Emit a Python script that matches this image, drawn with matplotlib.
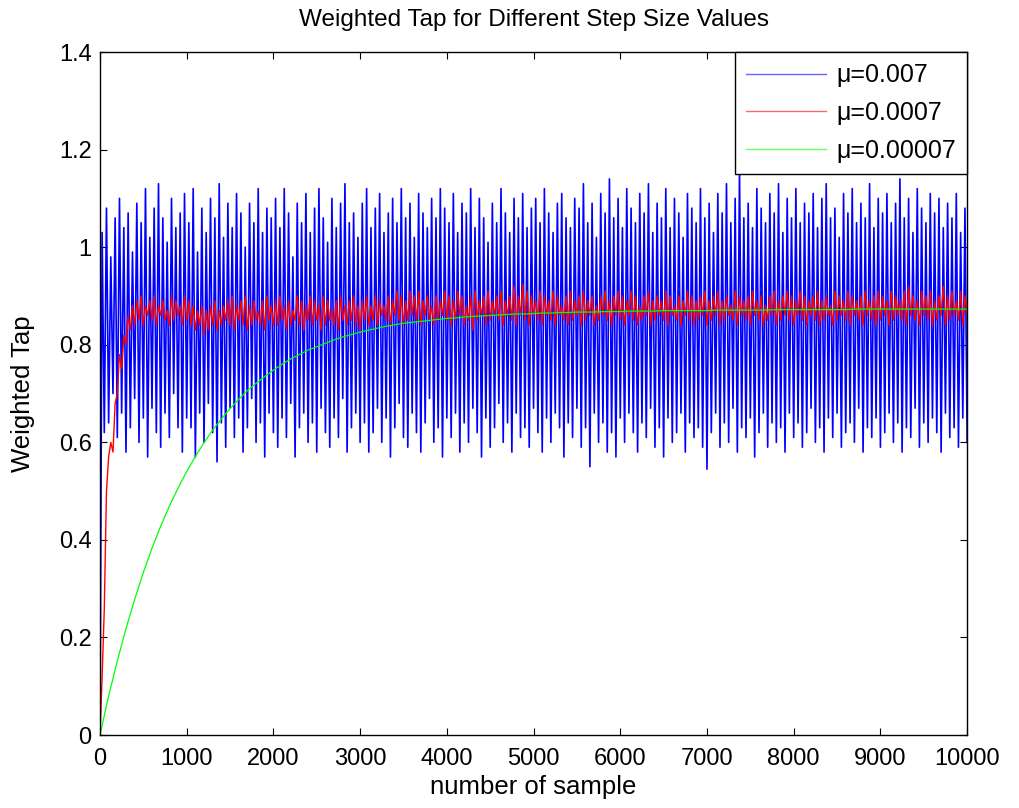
import matplotlib
matplotlib.use("Agg")
import matplotlib.pyplot as plt
import numpy as np

plt.rcParams['font.family'] = ['Liberation Sans', 'DejaVu Sans']

n_samples = 10000
step = 25

# mu = 0.007 : alternating peaks and troughs
blue_start = 0.0
blue_hi = [1.03, 1.08, 0.98, 1.06, 1.10, 1.04, 1.07, 0.99, 1.09, 1.05, 1.12, 1.02, 1.08, 1.13, 1.06, 1.01, 1.10, 1.04, 1.07, 1.11,
           1.05, 1.12, 0.99, 1.08, 1.03, 1.10, 1.06, 1.13, 1.02, 1.09, 1.04, 1.11, 1.07, 1.00, 1.09, 1.05, 1.12, 1.03, 1.08, 1.06,
           1.10, 1.04, 1.12, 1.07, 0.98, 1.09, 1.05, 1.11, 1.03, 1.08, 1.12, 1.06, 1.01, 1.10, 1.04, 1.09, 1.13, 1.05, 1.07, 1.02,
           1.09, 1.12, 1.04, 1.08, 1.11, 1.03, 1.07, 1.10, 1.05, 1.12, 1.06, 1.09, 1.02, 1.11, 1.07, 1.04, 1.10, 1.06, 1.12, 1.08,
           1.05, 1.11, 1.03, 1.09, 1.07, 1.12, 1.04, 1.10, 1.06, 1.01, 1.09, 1.05, 1.12, 1.07, 1.03, 1.10, 1.06, 1.11, 1.04, 1.08,
           1.10, 1.05, 1.12, 1.07, 1.03, 1.09, 1.11, 1.06, 1.04, 1.10, 1.08, 1.13, 1.05, 1.09, 1.02, 1.11, 1.07, 1.14, 1.06, 1.10,
           1.04, 1.12, 1.08, 1.05, 1.11, 1.07, 1.13, 1.03, 1.09, 1.06, 1.12, 1.04, 1.10, 1.07, 1.02, 1.11, 1.08, 1.05, 1.12, 1.06,
           1.09, 1.03, 1.11, 1.07, 1.13, 1.05, 1.10, 1.16, 1.06, 1.09, 1.04, 1.12, 1.08, 1.05, 1.11, 1.07, 1.13, 1.03, 1.10, 1.06,
           1.12, 1.05, 1.09, 1.07, 1.11, 1.04, 1.10, 1.13, 1.06, 1.08, 1.02, 1.11, 1.07, 1.12, 1.05, 1.09, 1.06, 1.13, 1.04, 1.10,
           1.07, 1.11, 1.05, 1.09, 1.14, 1.06, 1.10, 1.03, 1.12, 1.08, 1.05, 1.11, 1.07, 1.10, 1.04, 1.09, 1.06, 1.11, 1.03, 1.08]
blue_lo = [0.62, 0.64, 0.70, 0.61, 0.66, 0.58, 0.63, 0.69, 0.60, 0.65, 0.57, 0.67, 0.62, 0.59, 0.66, 0.61, 0.70, 0.63, 0.58, 0.65,
           0.63, 0.57, 0.66, 0.60, 0.68, 0.62, 0.56, 0.64, 0.59, 0.67, 0.61, 0.65, 0.58, 0.63, 0.69, 0.60, 0.64, 0.57, 0.66, 0.62,
           0.59, 0.65, 0.61, 0.68, 0.57, 0.63, 0.66, 0.60, 0.64, 0.58, 0.67, 0.62, 0.59, 0.65, 0.61, 0.69, 0.58, 0.63, 0.66, 0.60,
           0.64, 0.58, 0.62, 0.67, 0.60, 0.65, 0.57, 0.63, 0.68, 0.61, 0.59, 0.66, 0.62, 0.58, 0.64, 0.69, 0.60, 0.63, 0.57, 0.65,
           0.61, 0.66, 0.58, 0.64, 0.60, 0.67, 0.62, 0.57, 0.65, 0.59, 0.63, 0.68, 0.60, 0.64, 0.58, 0.66, 0.61, 0.63, 0.59, 0.67,
           0.62, 0.58, 0.65, 0.60, 0.66, 0.63, 0.57, 0.64, 0.61, 0.67, 0.59, 0.63, 0.55, 0.66, 0.60, 0.64, 0.58, 0.62, 0.57, 0.65,
           0.60, 0.66, 0.62, 0.58, 0.64, 0.61, 0.67, 0.59, 0.63, 0.57, 0.65, 0.60, 0.62, 0.66, 0.58, 0.64, 0.61, 0.63, 0.59, 0.545,
           0.62, 0.66, 0.59, 0.64, 0.60, 0.67, 0.58, 0.63, 0.61, 0.65, 0.57, 0.62, 0.66, 0.59, 0.64, 0.60, 0.63, 0.58, 0.66, 0.61,
           0.64, 0.59, 0.62, 0.67, 0.60, 0.63, 0.58, 0.65, 0.61, 0.66, 0.59, 0.62, 0.64, 0.60, 0.67, 0.58, 0.63, 0.61, 0.65, 0.59,
           0.62, 0.66, 0.60, 0.64, 0.58, 0.63, 0.61, 0.67, 0.59, 0.64, 0.60, 0.65, 0.62, 0.58, 0.66, 0.61, 0.63, 0.59, 0.65, 0.60]

# mu = 0.0007
red_start = 0.0
red_hi = [0.12, 0.50, 0.60, 0.68, 0.78, 0.82, 0.86, 0.88, 0.89, 0.90, 0.88, 0.89, 0.90, 0.88, 0.89, 0.87, 0.90, 0.89, 0.88, 0.90,
          0.89, 0.88, 0.87, 0.88, 0.87, 0.88, 0.89, 0.87, 0.88, 0.89, 0.90, 0.88, 0.89, 0.90, 0.88, 0.89, 0.87, 0.89, 0.90, 0.88,
          0.89, 0.90, 0.88, 0.89, 0.87, 0.90, 0.89, 0.88, 0.90, 0.89, 0.88, 0.90, 0.89, 0.87, 0.89, 0.90, 0.88, 0.89, 0.90, 0.88,
          0.89, 0.90, 0.88, 0.90, 0.89, 0.88, 0.90, 0.89, 0.91, 0.90, 0.89, 0.91, 0.90, 0.91, 0.89, 0.90, 0.88, 0.90, 0.89, 0.91,
          0.90, 0.89, 0.91, 0.90, 0.88, 0.90, 0.91, 0.89, 0.90, 0.91, 0.89, 0.90, 0.91, 0.89, 0.90, 0.92, 0.90, 0.925, 0.91, 0.90,
          0.89, 0.91, 0.90, 0.89, 0.91, 0.90, 0.88, 0.90, 0.91, 0.89, 0.90, 0.91, 0.89, 0.90, 0.88, 0.90, 0.91, 0.89, 0.90, 0.91,
          0.90, 0.89, 0.91, 0.90, 0.88, 0.90, 0.91, 0.89, 0.90, 0.89, 0.91, 0.90, 0.88, 0.90, 0.89, 0.91, 0.90, 0.89, 0.90, 0.91,
          0.89, 0.90, 0.91, 0.89, 0.90, 0.88, 0.91, 0.90, 0.89, 0.90, 0.91, 0.89, 0.90, 0.88, 0.90, 0.91, 0.89, 0.90, 0.91, 0.90,
          0.89, 0.91, 0.90, 0.89, 0.90, 0.91, 0.89, 0.90, 0.88, 0.91, 0.90, 0.89, 0.91, 0.90, 0.89, 0.90, 0.91, 0.89, 0.90, 0.91,
          0.90, 0.89, 0.91, 0.90, 0.89, 0.91, 0.92, 0.90, 0.89, 0.91, 0.90, 0.91, 0.89, 0.90, 0.92, 0.90, 0.91, 0.89, 0.91, 0.90]
red_lo = [0.26, 0.57, 0.58, 0.70, 0.75, 0.80, 0.83, 0.84, 0.85, 0.84, 0.86, 0.85, 0.84, 0.86, 0.85, 0.84, 0.85, 0.86, 0.84, 0.85,
          0.84, 0.83, 0.84, 0.82, 0.83, 0.84, 0.83, 0.84, 0.85, 0.84, 0.83, 0.85, 0.84, 0.83, 0.84, 0.85, 0.84, 0.83, 0.85, 0.84,
          0.84, 0.85, 0.83, 0.84, 0.85, 0.84, 0.83, 0.85, 0.84, 0.85, 0.83, 0.84, 0.85, 0.84, 0.83, 0.85, 0.84, 0.85, 0.84, 0.83,
          0.85, 0.84, 0.85, 0.84, 0.86, 0.85, 0.84, 0.86, 0.85, 0.84, 0.85, 0.86, 0.85, 0.84, 0.86, 0.85, 0.84, 0.85, 0.86, 0.85,
          0.84, 0.85, 0.86, 0.84, 0.85, 0.83, 0.85, 0.86, 0.84, 0.85, 0.86, 0.85, 0.84, 0.86, 0.85, 0.84, 0.86, 0.85, 0.84, 0.86,
          0.85, 0.84, 0.86, 0.85, 0.84, 0.86, 0.85, 0.84, 0.85, 0.86, 0.84, 0.85, 0.86, 0.84, 0.85, 0.86, 0.85, 0.84, 0.86, 0.85,
          0.84, 0.86, 0.85, 0.84, 0.85, 0.86, 0.84, 0.85, 0.86, 0.85, 0.84, 0.86, 0.85, 0.84, 0.86, 0.85, 0.84, 0.85, 0.86, 0.84,
          0.85, 0.86, 0.84, 0.85, 0.86, 0.85, 0.84, 0.86, 0.85, 0.84, 0.86, 0.85, 0.84, 0.85, 0.86, 0.84, 0.85, 0.86, 0.85, 0.84,
          0.86, 0.85, 0.84, 0.86, 0.85, 0.84, 0.85, 0.86, 0.84, 0.85, 0.86, 0.85, 0.84, 0.86, 0.85, 0.84, 0.86, 0.85, 0.84, 0.85,
          0.86, 0.84, 0.85, 0.86, 0.85, 0.84, 0.86, 0.85, 0.84, 0.86, 0.85, 0.84, 0.85, 0.86, 0.84, 0.85, 0.86, 0.85, 0.84, 0.86]

# mu = 0.00007 : smooth rise, one value every 100 samples
green = [0.000, 0.080, 0.152, 0.218, 0.278, 0.333, 0.383, 0.428, 0.469, 0.506, 0.540,
         0.571, 0.599, 0.625, 0.648, 0.669, 0.688, 0.706, 0.721, 0.735, 0.748,
         0.760, 0.771, 0.780, 0.789, 0.796, 0.803, 0.810, 0.816, 0.821, 0.826,
         0.830, 0.834, 0.838, 0.841, 0.844, 0.846, 0.848, 0.850, 0.852, 0.854,
         0.855, 0.857, 0.858, 0.859, 0.860, 0.861, 0.862, 0.863, 0.863, 0.864,
         0.865, 0.865, 0.866, 0.866, 0.867, 0.867, 0.867, 0.868, 0.868, 0.868,
         0.869, 0.869, 0.869, 0.869, 0.870, 0.870, 0.870, 0.870, 0.870, 0.870,
         0.871, 0.871, 0.871, 0.871, 0.871, 0.871, 0.871, 0.872, 0.872, 0.872,
         0.872, 0.872, 0.872, 0.872, 0.872, 0.872, 0.873, 0.873, 0.873, 0.873,
         0.873, 0.873, 0.873, 0.873, 0.873, 0.873, 0.873, 0.873, 0.873, 0.873]

labels = ['\u03bc=0.007', '\u03bc=0.0007', '\u03bc=0.00007']

x_osc = np.arange(0, n_samples + 1, step)
blue = np.concatenate([[blue_start], np.column_stack([blue_hi, blue_lo]).ravel()])
red = np.concatenate([[red_start], np.column_stack([red_hi, red_lo]).ravel()])
x_green = np.linspace(0, n_samples, len(green))

fig = plt.figure(figsize=(10.19, 8.08), dpi=100)
ax = fig.add_axes([0.0981, 0.0903, 0.851, 0.8453])

ax.plot(x_osc, blue, color='#0000ff', lw=1.2, label=labels[0])
ax.plot(x_osc, red, color='#ff0000', lw=1.0, label=labels[1])
ax.plot(x_green, green, color='#00ff00', lw=0.9, label=labels[2])

ax.set_xlim(0, 10000)
ax.set_ylim(0, 1.4)
ax.set_xticks(np.arange(0, 10001, 1000))
ax.set_yticks([0, 0.2, 0.4, 0.6, 0.8, 1.0, 1.2, 1.4])
ax.set_yticklabels(['0', '0.2', '0.4', '0.6', '0.8', '1', '1.2', '1.4'])
ax.tick_params(direction='in', top=True, right=True, length=5, labelsize=17)
ax.tick_params(axis='x', pad=9)
ax.tick_params(axis='y', pad=6)
for s in ax.spines.values():
    s.set_linewidth(1.0)

ax.set_title('Weighted Tap for Different Step Size Values', fontsize=17.5, pad=19)
ax.set_xlabel('number of sample', fontsize=18.5, labelpad=4)
ax.set_ylabel('Weighted Tap', fontsize=18.5, labelpad=17)

leg = ax.legend(loc='upper right', fontsize=18, fancybox=False, framealpha=1,
                edgecolor='black', borderaxespad=0, handlelength=3.2, handletextpad=0.4,
                borderpad=0.45, labelspacing=0.55)
leg.get_frame().set_linewidth(1.0)
for h in leg.get_lines():
    h.set_linewidth(1.0)
    h.set_alpha(0.6)

fig.savefig('out.png', dpi=100)
